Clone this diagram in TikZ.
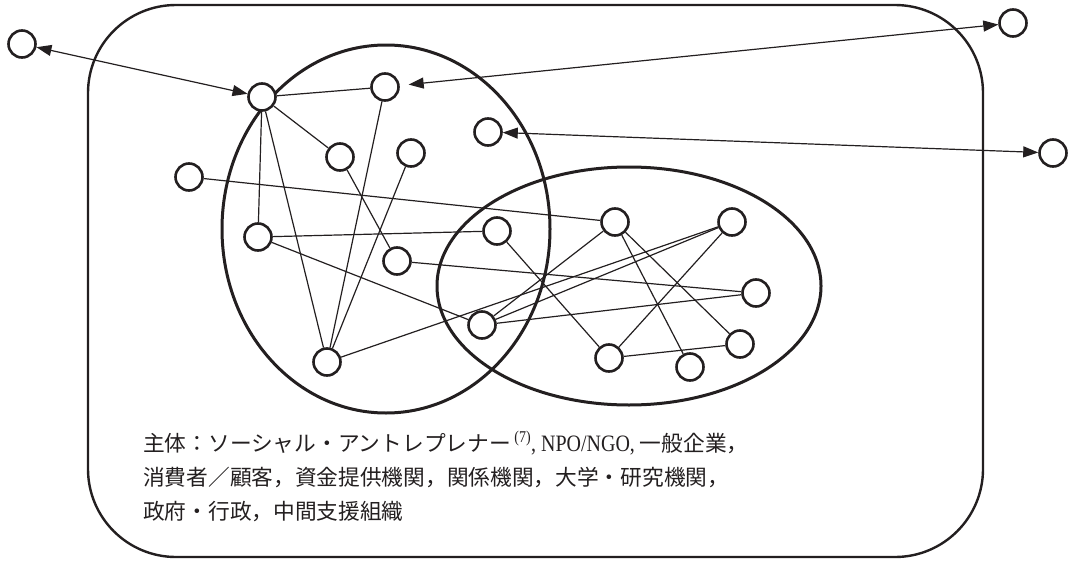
\documentclass[tikz,border=0pt]{standalone}
\usepackage{fontspec}
\setmainfont{Liberation Serif}
\newfontfamily\cjk{Noto Sans CJK JP}
\newfontfamily\latn[FakeStretch=0.85]{Liberation Serif}
\usetikzlibrary{arrows.meta}
\definecolor{ink}{RGB}{35,31,32}
\begin{document}
\begin{tikzpicture}[x=1pt,y=-1pt,
  actor/.style={circle,draw=ink,line width=2.6pt,minimum size=27pt,inner sep=0pt,fill=white},
  tie/.style={draw=ink,line width=1.2pt},
  link/.style={draw=ink,line width=1.2pt,{Triangle[length=15pt,width=11pt]}-{Triangle[length=15pt,width=11pt]}},
  frame/.style={draw=ink,line width=2.4pt,rounded corners=88pt},
  group/.style={draw=ink,line width=3pt},
  caption/.style={font=\fontsize{21.7}{34}\selectfont,align=left,inner sep=0pt,anchor=north west,text=ink}]
\useasboundingbox (0,0) rectangle (1073,562);
% frame and groups
\draw[frame] (88,5) rectangle (983,557);
\draw[group] (386,229) ellipse [x radius=164, y radius=184];
\draw[group] (629,286) ellipse [x radius=192, y radius=119];
% actors
\node[actor] (A) at (22,44) {};
\node[actor] (B) at (262,97) {};
\node[actor] (C) at (385,87) {};
\node[actor] (D) at (488,132) {};
\node[actor] (E) at (1013,23) {};
\node[actor] (F) at (1053,153) {};
\node[actor] (G) at (189,177) {};
\node[actor] (H) at (340,157) {};
\node[actor] (I) at (411,153) {};
\node[actor] (J) at (258,237) {};
\node[actor] (K) at (497,231) {};
\node[actor] (L) at (397,261) {};
\node[actor] (M) at (482,325) {};
\node[actor] (N) at (327,362) {};
\node[actor] (O) at (615,222) {};
\node[actor] (P) at (732,222) {};
\node[actor] (Q) at (756,293) {};
\node[actor] (R) at (609,358) {};
\node[actor] (S) at (690,367) {};
\node[actor] (T) at (740,344) {};
% external links
\draw[link] (A) -- (B);
\draw[link,shorten <=9pt] (C) -- (E);
\draw[link] (D) -- (F);
% internal ties
\draw[tie] (B) -- (C);
\draw[tie] (B) -- (H);
\draw[tie] (B) -- (J);
\draw[tie] (B) -- (N);
\draw[tie] (C) -- (N);
\draw[tie] (I) -- (N);
\draw[tie] (H) -- (L);
\draw[tie] (G) -- (O);
\draw[tie] (J) -- (K);
\draw[tie] (J) -- (M);
\draw[tie] (L) -- (Q);
\draw[tie] (N) -- (P);
\draw[tie] (K) -- (R);
\draw[tie] (M) -- (O);
\draw[tie] (M) -- (P);
\draw[tie] (M) -- (Q);
\draw[tie] (O) -- (S);
\draw[tie] (O) -- (T);
\draw[tie] (P) -- (R);
\draw[tie] (R) -- (T);
% caption
\node[caption] (txt) at (143,431) {{\cjk 主体：ソーシャル・アントレプレナー}\,{\latn\fontsize{23.5}{34}\selectfont\textsuperscript{(7)}, NPO/NGO, }{\cjk 一般企業，}\\
{\cjk 消費者／顧客，資金提供機関，関係機関，大学・研究機関，}\\
{\cjk 政府・行政，中間支援組織}};
\end{tikzpicture}
\end{document}
